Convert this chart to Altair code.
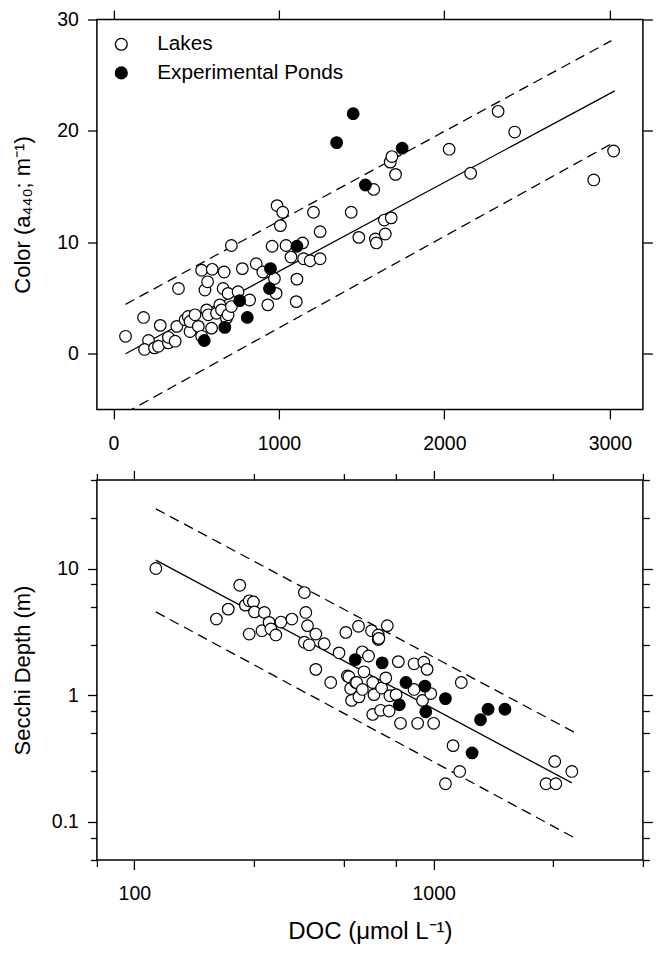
import altair as alt
import pandas as pd

FONT = "Liberation Sans"

# ---------------- Panel A: Color (a440) vs DOC ----------------
lake_doc_a = [73, 182, 212, 188, 248, 272, 283, 332, 332, 373,
              383, 393, 433, 452, 463, 463, 493, 513, 533, 533,
              553, 563, 569, 573, 593, 597, 623, 643, 653, 663,
              669, 683, 693, 693, 713, 713, 753, 779, 823, 863,
              903, 933, 959, 973, 983, 989, 1009, 1023, 1043, 1073,
              1105, 1109, 1143, 1149, 1189, 1209, 1249, 1249, 1437, 1483,
              1573, 1583, 1589, 1637, 1643, 1673, 1679, 1683, 1705, 2029,
              2159, 2325, 2425, 2903, 3023]
lake_color_a = [1.57, 3.26, 1.19, 0.39, 0.53, 0.68, 2.55, 0.98, 1.48, 1.13,
                2.46, 5.86, 3.05, 3.35, 2.0, 2.9, 3.5, 2.46, 1.57, 7.5,
                5.72, 3.94, 6.46, 3.5, 2.3, 7.58, 3.64, 4.39, 3.94, 5.86,
                7.34, 3.2, 5.42, 3.5, 4.24, 9.72, 5.57, 7.64, 4.83, 8.08,
                7.34, 4.39, 9.65, 6.75, 5.42, 13.3, 11.5, 12.7, 9.72, 8.68,
                4.68, 6.70, 9.95, 8.53, 8.35, 12.7, 8.53, 10.96, 12.7, 10.45,
                14.75, 10.3, 9.95, 12.0, 10.75, 17.2, 12.2, 17.7, 16.1, 18.36,
                16.2, 21.76, 19.9, 15.6, 18.2]
pond_doc_a = [549, 673, 763, 809, 943, 949, 1109, 1349, 1449, 1523, 1745]
pond_color_a = [1.19, 2.37, 4.77, 3.26, 5.86, 7.64, 9.65, 18.95, 21.55, 15.15, 18.45]

fit_doc_a = [73, 3030]
fit_color_a = [0.0, 23.6]
upper_doc_a = [73, 3010]
upper_color_a = [4.44, 28.1]
lower_doc_a = [73, 3023]
lower_color_a = [-5.3, 18.95]

x_ticks_a = [0, 1000, 2000, 3000]
y_ticks_a = [0, 10, 20, 30]
x_domain_a = [-100, 3200]
y_domain_a = [-5, 30]

# ---------------- Panel B: Secchi depth vs DOC (log-log) ----------------
lake_doc_b = [118, 188, 206, 225, 235, 242, 242, 250, 252, 267,
              272, 282, 286, 297, 309, 336, 370, 370, 374, 379,
              384, 404, 404, 431, 453, 483, 509, 515, 521, 528,
              532, 549, 553, 561, 563, 578, 578, 585, 606, 620,
              626, 626, 632, 653, 653, 656, 665, 670, 692, 700,
              710, 714, 749, 762, 775, 860, 860, 884, 918, 927,
              951, 978, 1000, 1095, 1161, 1222, 1237, 2374, 2538, 2560,
              2895]
lake_secchi_b = [10.0, 3.99, 4.78, 7.38, 5.14, 5.56, 3.04, 5.45, 4.55, 3.23,
                 4.5, 3.76, 3.33, 2.99, 3.78, 3.99, 6.46, 2.62, 4.5, 3.54,
                 2.5, 3.04, 1.60, 2.55, 1.26, 2.16, 3.13, 1.42, 1.40, 1.13,
                 0.91, 1.26, 1.26, 3.5, 0.97, 2.2, 1.11, 1.53, 2.04, 3.23,
                 1.26, 0.705, 1.01, 2.99, 2.75, 2.81, 0.76, 1.14, 1.37, 3.54,
                 0.75, 0.99, 1.01, 1.84, 0.60, 1.77, 1.11, 0.60, 0.91, 1.82,
                 1.60, 1.03, 0.60, 0.20, 0.40, 0.25, 1.26, 0.20, 0.30, 0.20,
                 0.25]
pond_doc_b = [547, 673, 768, 808, 935, 941, 1095, 1344, 1434, 1520, 1730]
pond_secchi_b = [1.91, 1.80, 0.84, 1.26, 1.18, 0.74, 0.94, 0.35, 0.64, 0.775, 0.775]

fit_doc_b = [118, 2895]
fit_secchi_b = [11.65, 0.203]
upper_doc_b = [118, 2950]
upper_secchi_b = [29.6, 0.51]
lower_doc_b = [118, 2950]
lower_secchi_b = [4.55, 0.075]

x_major_b = [100, 1000]
x_minor_b = [75, 250, 500, 750, 2500, 5000]
y_major_b = [0.1, 1, 10]
y_minor_b = [0.05, 0.075, 0.25, 0.5, 0.75, 2.5, 5, 7.5, 25, 50]
x_domain_b = [75, 5000]
y_domain_b = [0.05, 50]

CATS = ["Lakes", "Experimental Ponds"]

W = 546
H_A, H_B = 390, 380
MAJ, MIN = 9.5, 6.5
LABEL_SIZE = 19.5


def axis(orient, values, size, labels=False, title=None, fmt="d", **extra):
    kw = dict(orient=orient, values=values, tickSize=size, labels=labels,
              domain=False, grid=False, ticks=True, tickColor="black",
              tickWidth=1.3, title=title, minExtent=0)
    if labels:
        kw.update(format=fmt, labelFontSize=LABEL_SIZE, labelFont=FONT, labelColor="black",
                  labelFlush=False, labelOverlap=False,
                  labelPadding=15 if orient in ("bottom", "top") else 9)
    kw.update(extra)
    return alt.Axis(**kw)


def ytitle_kw(h):
    return dict(titleX=-62.8, titleY=h / 2, titleFontSize=22, titleFont=FONT,
                titleFontWeight="normal", titleColor="black")


def lines_df(xs, ys):
    return pd.DataFrame({"doc": xs, "val": ys})


def points_df(lx, ly, px, py):
    return pd.DataFrame({
        "doc": list(lx) + list(px),
        "val": list(ly) + list(py),
        "type": ["Lakes"] * len(lx) + ["Experimental Ponds"] * len(px),
    })


# ---- Panel A ----
xs_a = alt.Scale(domain=x_domain_a, nice=False, zero=False)
ys_a = alt.Scale(domain=y_domain_a, nice=False, zero=False)

a_fit = alt.Chart(lines_df(fit_doc_a, fit_color_a)).mark_line(
    color="black", strokeWidth=1.3, clip=True).encode(
    x=alt.X("doc:Q", scale=xs_a, axis=axis("bottom", x_ticks_a, MAJ, labels=True)),
    y=alt.Y("val:Q", scale=ys_a,
            axis=axis("left", y_ticks_a, MAJ, labels=True,
                      title="Color (a\u2084\u2084\u2080; m\u207b\u00b9)", **ytitle_kw(H_A))),
)
a_up = alt.Chart(lines_df(upper_doc_a, upper_color_a)).mark_line(
    color="black", strokeWidth=1.3, strokeDash=[10, 6], clip=True).encode(
    x=alt.X("doc:Q", scale=xs_a, axis=axis("top", x_ticks_a, MAJ)),
    y=alt.Y("val:Q", scale=ys_a, axis=axis("right", y_ticks_a, MAJ)),
)
a_low = alt.Chart(lines_df(lower_doc_a, lower_color_a)).mark_line(
    color="black", strokeWidth=1.3, strokeDash=[10, 6], clip=True).encode(
    x=alt.X("doc:Q", scale=xs_a, axis=None),
    y=alt.Y("val:Q", scale=ys_a, axis=None),
)
a_pts = alt.Chart(points_df(lake_doc_a, lake_color_a, pond_doc_a, pond_color_a)).mark_circle(
    size=135, stroke="black", strokeWidth=1.2, opacity=1).encode(
    x=alt.X("doc:Q", scale=xs_a, axis=None),
    y=alt.Y("val:Q", scale=ys_a, axis=None),
    fill=alt.Fill("type:N", scale=alt.Scale(domain=CATS, range=["white", "black"]),
                  legend=alt.Legend(title=None, orient="none", legendX=14, legendY=14.4,
                                    labelFontSize=20.8, labelFont=FONT, labelColor="black",
                                    labelLimit=400,
                                    symbolType="circle", symbolSize=140,
                                    symbolStrokeColor="black", symbolStrokeWidth=1.3,
                                    rowPadding=6.6, labelOffset=25.5, padding=0)),
)
panel_a = alt.layer(a_fit, a_up, a_low, a_pts).resolve_axis(
    x="independent", y="independent").properties(width=W, height=H_A)

# ---- Panel B ----
xs_b = alt.Scale(type="log", domain=x_domain_b, nice=False, zero=False)
ys_b = alt.Scale(type="log", domain=y_domain_b, nice=False, zero=False)

b_fit = alt.Chart(lines_df(fit_doc_b, fit_secchi_b)).mark_line(
    color="black", strokeWidth=1.3).encode(
    x=alt.X("doc:Q", scale=xs_b,
            axis=axis("bottom", x_major_b, MAJ, labels=True, title="DOC (\u03bcmol L\u207b\u00b9)",
                      titleFontSize=24, titleFont=FONT, titleFontWeight="normal",
                      titleColor="black", titlePadding=16.9)),
    y=alt.Y("val:Q", scale=ys_b,
            axis=axis("left", y_major_b, MAJ, labels=True, fmt="~g",
                      title="Secchi Depth (m)", **ytitle_kw(H_B))),
)
b_up = alt.Chart(lines_df(upper_doc_b, upper_secchi_b)).mark_line(
    color="black", strokeWidth=1.3, strokeDash=[10, 6]).encode(
    x=alt.X("doc:Q", scale=xs_b, axis=axis("bottom", x_minor_b, MIN)),
    y=alt.Y("val:Q", scale=ys_b, axis=axis("left", y_minor_b, MIN)),
)
b_low = alt.Chart(lines_df(lower_doc_b, lower_secchi_b)).mark_line(
    color="black", strokeWidth=1.3, strokeDash=[10, 6]).encode(
    x=alt.X("doc:Q", scale=xs_b, axis=axis("top", x_major_b, MAJ)),
    y=alt.Y("val:Q", scale=ys_b, axis=axis("right", y_major_b, MAJ)),
)
b_pts = alt.Chart(points_df(lake_doc_b, lake_secchi_b, pond_doc_b, pond_secchi_b)).mark_circle(
    size=135, stroke="black", strokeWidth=1.2, opacity=1).encode(
    x=alt.X("doc:Q", scale=xs_b, axis=axis("top", x_minor_b, MIN)),
    y=alt.Y("val:Q", scale=ys_b, axis=axis("right", y_minor_b, MIN)),
    fill=alt.Fill("type:N", scale=alt.Scale(domain=CATS, range=["white", "black"]), legend=None),
)
panel_b = alt.layer(b_fit, b_up, b_low, b_pts).resolve_axis(
    x="independent", y="independent").properties(width=W, height=H_B)

chart = alt.vconcat(panel_a, panel_b, spacing=15.5).resolve_scale(
    x="independent", y="independent", fill="independent").resolve_legend(
    fill="independent").properties(
    padding={"left": 1.9, "top": 0.5, "right": 0, "bottom": 0},
    background="white",
).configure_view(stroke="black", strokeWidth=1.5).configure_axis(
    labelFont=FONT, titleFont=FONT)

chart.save("out.html", embed_options={"renderer": "svg", "actions": False})
